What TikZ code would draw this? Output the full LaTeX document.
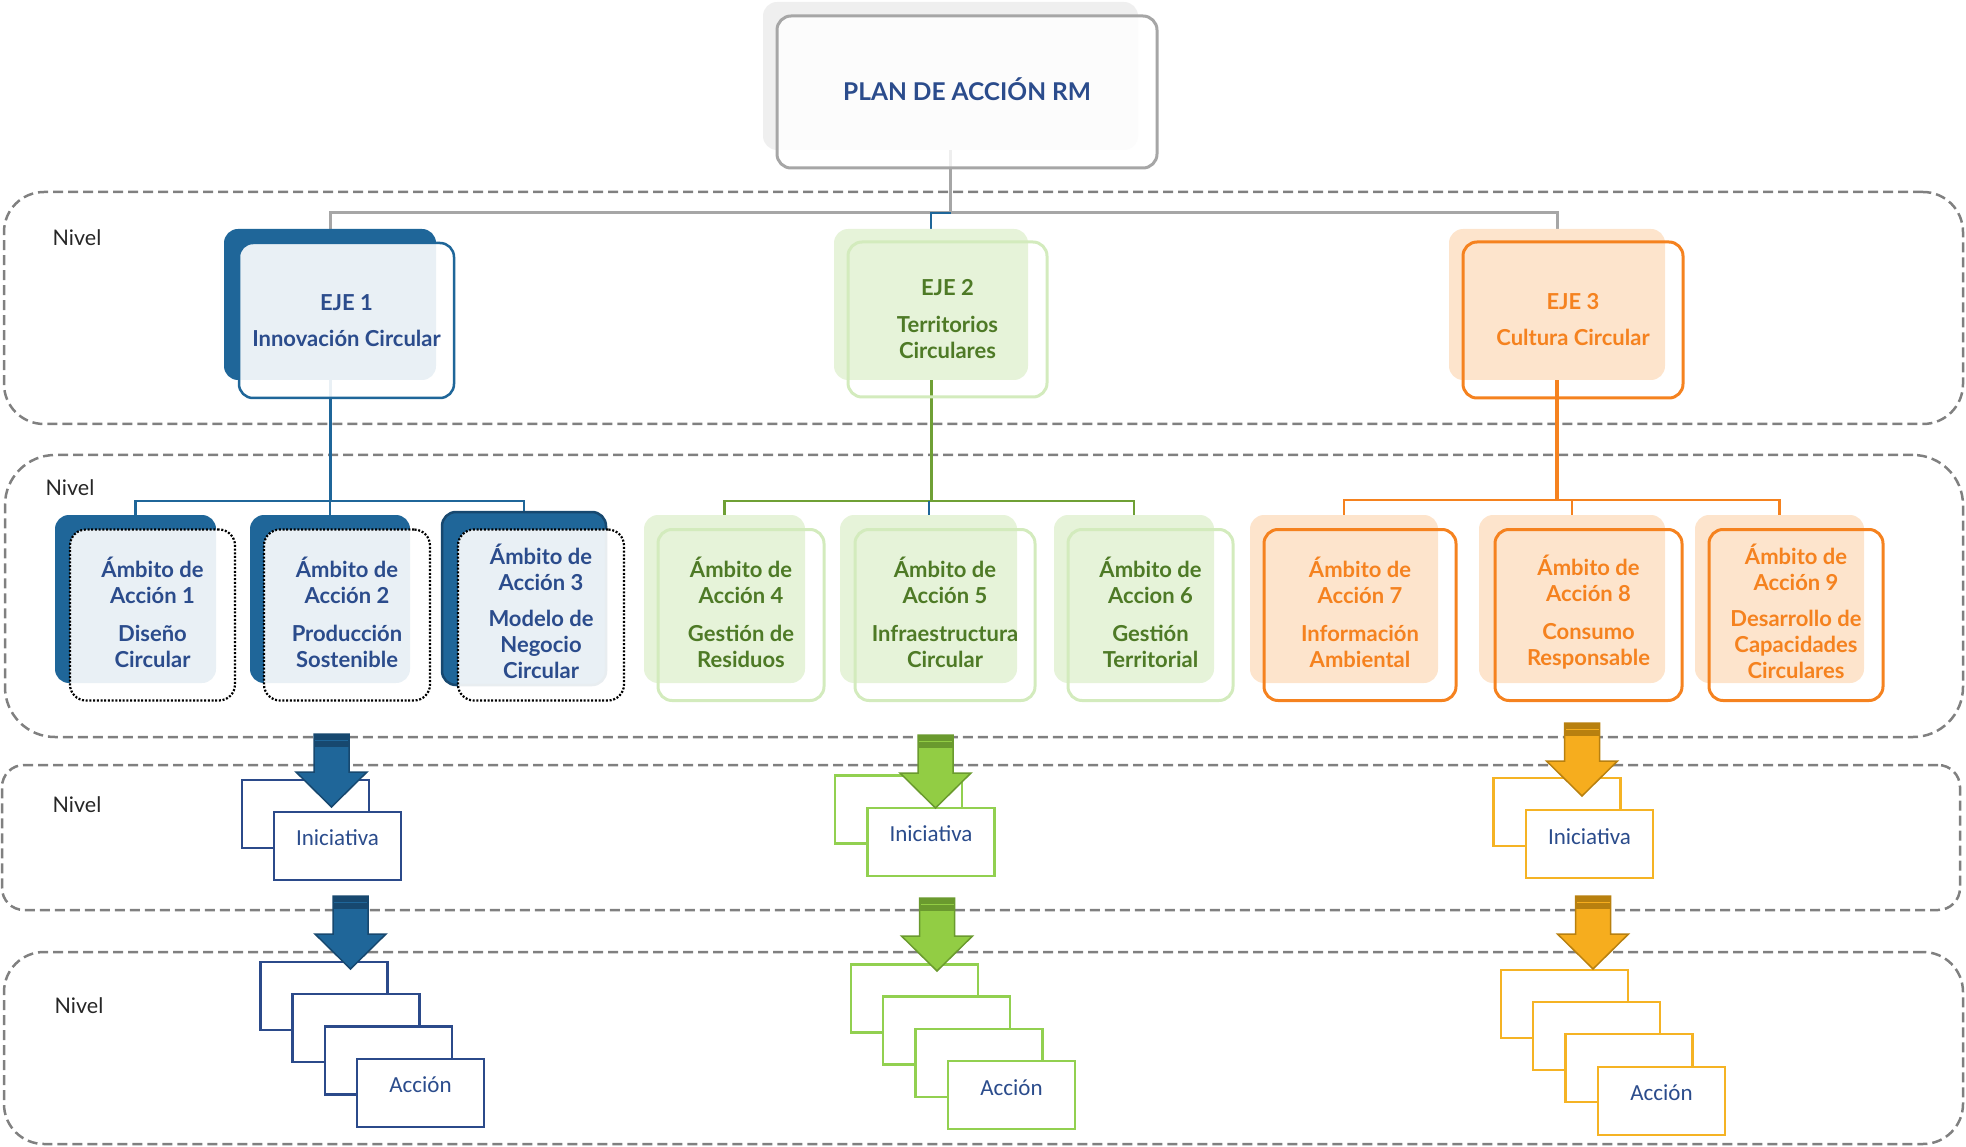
\documentclass[tikz,border=0pt]{standalone}
\usepackage{fontspec}
\setmainfont{Lato}
\newfontfamily\carl{Carlito}
\definecolor{tblue}{HTML}{2B4C8C}
\definecolor{dblue}{HTML}{1F6699}
\definecolor{ddblue}{HTML}{17486F}
\definecolor{gtext}{HTML}{4E7A26}
\definecolor{gback}{HTML}{E6F3D9}
\definecolor{glinec}{HTML}{D3EBBD}
\definecolor{gconnc}{HTML}{6FA035}
\definecolor{otext}{HTML}{F5821F}
\definecolor{oback}{HTML}{FDE4CC}
\definecolor{garrow}{HTML}{92CD44}
\definecolor{garrowd}{HTML}{6A9A2E}
\definecolor{grect}{HTML}{92D050}
\definecolor{oarrow}{HTML}{F6AD1E}
\definecolor{oarrowd}{HTML}{B8800F}
\definecolor{orect}{HTML}{F5B324}
\definecolor{brect}{HTML}{2B4A8A}
\definecolor{framec}{HTML}{808080}
\definecolor{grayc}{HTML}{A6A6A6}
\definecolor{shadowc}{HTML}{EFEFEF}
\pgfdeclarelayer{bg}
\pgfdeclarelayer{conn}
\pgfsetlayers{bg,conn,main}
\newcommand\blkarrow[4]{%
  \begin{scope}[shift={(#1,#2)}]
    \filldraw[fill=#3, draw=#4, line width=1.5, line join=miter] (-17.5,0) -- (17.5,0) -- (17.5,38) -- (35.5,38) -- (0,73) -- (-35.5,38) -- (-17.5,38) -- cycle;
    \fill[#4] (-17.5,0) rectangle (17.5,13);
    \draw[#3, line width=1] (-16.5,6.5) -- (16.5,6.5);
  \end{scope}}
\begin{document}
\begin{tikzpicture}[x=1pt,y=-1pt,
  lvl/.style={draw=framec, line width=2.5, dash pattern=on 10pt off 5pt, inner sep=0},
  nivel/.style={font=\fontsize{21.5}{25}\selectfont, text=black!85, inner sep=0},
  lbl/.style={font=\bfseries\fontsize{22}{26}\selectfont, align=center, inner sep=0},
  topsh/.style={fill=shadowc, rounded corners=14, inner sep=0},
  topmain/.style={draw=grayc, line width=3, fill=white, fill opacity=0.82, rounded corners=14, inner sep=0},
  toptext/.style={text=tblue, font=\bfseries\fontsize{24.5}{28}\selectfont, inner sep=0},
  backbox/.style={fill=#1, rounded corners=14, inner sep=0},
  bluefront/.style={draw=dblue, line width=2.5, fill=white, fill opacity=0.9, rounded corners=14, inner sep=0},
  greenfront/.style={draw=glinec, line width=3, rounded corners=14, inner sep=0},
  orangefront/.style={draw=otext, line width=3, rounded corners=14, inner sep=0},
  bluedot/.style={draw=black, line width=2.2, dash pattern=on 2pt off 1.7pt, fill=white, fill opacity=0.9, rounded corners=16, inner sep=0},
  btext/.style={lbl, text=tblue},
  gtxt/.style={lbl, text=gtext},
  otxt/.style={lbl, text=otext},
  gcon/.style={draw=grayc, line width=3},
  bcon/.style={draw=dblue, line width=3},
  gncon/.style={draw=gconnc, line width=3},
  ocon/.style={draw=otext, line width=3},
  srect/.style={draw=#1, line width=2.5, fill=white, minimum width=127, minimum height=68, inner sep=0},
  stext/.style={font=\carl\fontsize{23}{27}\selectfont, text=tblue, inner sep=0}
]
\useasboundingbox (0,0) rectangle (1966,1147);

% ---------- level frames ----------
\begin{pgfonlayer}{bg}
\node[lvl, rounded corners=40, minimum width=1959, minimum height=232] (lev1) at (983.5,308) {};
\node[lvl, rounded corners=50, minimum width=1958, minimum height=282] (lev2) at (984,596) {};
\node[lvl, rounded corners=22, minimum width=1958, minimum height=145] (lev3) at (981,837.5) {};
\node[lvl, rounded corners=40, minimum width=1959, minimum height=192] (lev4) at (983.5,1048) {};
\end{pgfonlayer}
\node[nivel] (niv1) at (77,238) {Nivel};
\node[nivel] (niv2) at (70,488) {Nivel};
\node[nivel] (niv3) at (77,805) {Nivel};
\node[nivel] (niv4) at (79,1006) {Nivel};

% ---------- top ----------
\node[topsh, minimum width=375, minimum height=148] (topsh) at (950.5,76) {};
\node[topmain, minimum width=380, minimum height=152] (top) at (967,92) {};
\node[toptext] (toptxt) at ([yshift=3pt]top.center) {PLAN DE ACCIÓN RM};

% ---------- EJE boxes ----------
\node[backbox=dblue, minimum width=212, minimum height=151] (e1b) at (330,304.5) {};
\node[bluefront, minimum width=215, minimum height=155] (e1f) at (346.5,320.5) {};
\node[btext] (e1t) at (e1f.center) {EJE 1\\[10pt]Innovación Circular};
\node[backbox=gback, minimum width=194, minimum height=151] (e2b) at (931,304.5) {};
\node[greenfront, minimum width=199, minimum height=155] (e2f) at (947.5,319.5) {};
\node[gtxt] (e2t) at (e2f.center) {EJE 2\\[11pt]Territorios\\Circulares};
\node[backbox=oback, minimum width=216, minimum height=151] (e3b) at (1557,304.5) {};
\node[orangefront, minimum width=220, minimum height=156] (e3f) at (1573,320) {};
\node[otxt] (e3t) at (e3f.center) {EJE 3\\[10pt]Cultura Circular};

% ---------- Ambitos ----------
\node[backbox=dblue, minimum width=161, minimum height=168] (a1b) at (135.5,599) {};
\node[bluedot, minimum width=165, minimum height=171] (a1f) at (152.5,615) {};
\node[btext] (a1t) at ([yshift=3pt]a1f.center) {Ámbito de\\Acción 1\\[12pt]Diseño\\Circular};
\node[backbox=dblue, minimum width=160, minimum height=168] (a2b) at (330,599) {};
\node[bluedot, minimum width=166, minimum height=171] (a2f) at (347,615) {};
\node[btext] (a2t) at ([yshift=3pt]a2f.center) {Ámbito de\\Acción 2\\[12pt]Producción\\Sostenible};
\node[backbox=dblue, draw=ddblue, line width=2.5, minimum width=164, minimum height=173] (a3b) at (524,598.5) {};
\node[bluedot, minimum width=166, minimum height=171] (a3f) at (541,615) {};
\node[btext] (a3t) at ([yshift=4pt]a3f.center) {Ámbito de\\Acción 3\\[10pt]Modelo de\\Negocio\\Circular};

\node[backbox=gback, minimum width=161, minimum height=168] (a4b) at (724.5,599) {};
\node[greenfront, minimum width=166, minimum height=171] (a4f) at (741,615) {};
\node[gtxt] (a4t) at ([yshift=3pt]a4f.center) {Ámbito de\\Acción 4\\[12pt]Gestión de\\Residuos};
\node[backbox=gback, minimum width=177, minimum height=168] (a5b) at (928.5,599) {};
\node[greenfront, minimum width=180, minimum height=171] (a5f) at (945,615) {};
\node[gtxt] (a5t) at ([yshift=3pt]a5f.center) {Ámbito de\\Acción 5\\[12pt]Infraestructura\\Circular};
\node[backbox=gback, minimum width=160, minimum height=168] (a6b) at (1134,599) {};
\node[greenfront, minimum width=165, minimum height=171] (a6f) at (1150.5,615) {};
\node[gtxt] (a6t) at ([yshift=3pt]a6f.center) {Ámbito de\\Accion 6\\[12pt]Gestión\\Territorial};

\node[backbox=oback, minimum width=188, minimum height=168] (a7b) at (1344,599) {};
\node[orangefront, minimum width=192, minimum height=171] (a7f) at (1360,615) {};
\node[otxt] (a7t) at ([yshift=3pt]a7f.center) {Ámbito de\\Acción 7\\[12pt]Información\\Ambiental};
\node[backbox=oback, minimum width=186, minimum height=168] (a8b) at (1572,599) {};
\node[orangefront, minimum width=187, minimum height=171] (a8f) at (1588.5,615) {};
\node[otxt] (a8t) at ([yshift=3pt]a8f.center) {Ámbito de\\Acción 8\\[12pt]Consumo\\Responsable};
\node[backbox=oback, minimum width=169, minimum height=168] (a9b) at (1779.5,599) {};
\node[orangefront, minimum width=174, minimum height=171] (a9f) at (1796,615) {};
\node[otxt] (a9t) at ([yshift=4pt]a9f.center) {Ámbito de\\Acción 9\\[10pt]Desarrollo de\\Capacidades\\Circulares};

% ---------- connectors ----------
\coordinate (gj) at (950.5,213);
\coordinate (bj) at (330,501);
\coordinate (gnj) at (931,501);
\coordinate (oj) at (1557,500);
\begin{pgfonlayer}{conn}
\draw[gcon] (topsh.south) -- (gj);
\draw[gcon] (e1b.north) |- (gj) -| (e3b.north);
\draw[bcon, line width=2.5] (gj) -| (e2b.north);
\draw[bcon] (e1b.south) -- (bj);
\draw[bcon, line width=2.5] (a1b.north) |- (bj) -| (a3b.north);
\draw[bcon, line width=2.5] (bj) -- (a2b.north);
\draw[gncon] (e2b.south) -- (gnj);
\draw[gncon, line width=2.5] (a4b.north) |- (gnj) -| (a6b.north);
\draw[bcon, line width=2] (a5b.north) -- (a5b.north |- gnj);
\draw[ocon, line width=3.5] (e3b.south) -- (oj);
\draw[ocon, line width=2.5] (a7b.north) |- (oj) -| (a9b.north);
\draw[ocon, line width=2.5] (a8b.north) -- (a8b.north |- oj);
\end{pgfonlayer}

% ---------- Iniciativa ----------
\node[srect=brect] (ib1) at (305.5,814) {};
\node[srect=brect] (if1) at (337.5,846) {};
\node[stext] (it1) at ([yshift=8pt]if1.center) {Iniciativa};
\node[srect=grect] (ib2) at (898.5,809.5) {};
\node[srect=grect] (if2) at (931,842) {};
\node[stext] (it2) at ([yshift=8pt]if2.center) {Iniciativa};
\node[srect=orect] (ib3) at (1557,812) {};
\node[srect=orect] (if3) at (1589.5,844) {};
\node[stext] (it3) at ([yshift=7pt]if3.center) {Iniciativa};

% ---------- Acción stacks ----------
\node[srect=brect] (b1) at (324,996) {};
\node[srect=brect] (b2) at (356,1028) {};
\node[srect=brect] (b3) at (388.5,1060.5) {};
\node[srect=brect] (b4) at (420.5,1093) {};
\node[stext] (bt) at ([yshift=8pt]b4.center) {Acción};
\node[srect=grect] (g1) at (914.5,998.5) {};
\node[srect=grect] (g2) at (946.5,1030.5) {};
\node[srect=grect] (g3) at (979,1063) {};
\node[srect=grect] (g4) at (1011.5,1095) {};
\node[stext] (gt) at ([yshift=7pt]g4.center) {Acción};
\node[srect=orect] (o1) at (1564.5,1004) {};
\node[srect=orect] (o2) at (1596.5,1036) {};
\node[srect=orect] (o3) at (1629,1068) {};
\node[srect=orect] (o4) at (1661.5,1101) {};
\node[stext] (ot) at ([yshift=8pt]o4.center) {Acción};

% ---------- block arrows ----------
\blkarrow{331.5}{734}{dblue}{ddblue}
\blkarrow{350.5}{896}{dblue}{ddblue}
\blkarrow{935.5}{735}{garrow}{garrowd}
\blkarrow{937}{898}{garrow}{garrowd}
\blkarrow{1582}{723}{oarrow}{oarrowd}
\blkarrow{1593}{896}{oarrow}{oarrowd}
\end{tikzpicture}
\end{document}
